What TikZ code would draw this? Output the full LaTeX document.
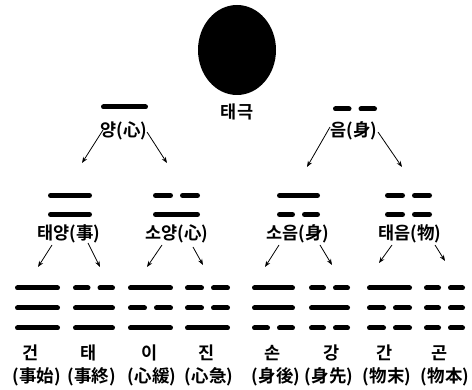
\documentclass[tikz,border=0pt]{standalone}
\usepackage{fontspec}
\newfontfamily\kr{Noto Sans CJK KR Bold}
\usetikzlibrary{arrows.meta,calc}
\tikzset{
  yaobar/.style={line width=5pt,line cap=round},
  lbl/.style={font=\kr\fontsize{17.5}{17.5}\selectfont,inner sep=0pt},
  arr/.style={line width=0.8pt,-{Stealth[length=6pt,width=4.5pt]}}
}
\newcommand{\gwsolid}[3]{\draw[yaobar] ({#1+2.5},#3) -- ({#2-2.5},#3);}
\newcommand{\gwbroken}[3]{\draw[yaobar] ({#1+2.5},#3) -- ({(#1+#2)/2-6},#3) ({(#1+#2)/2+6},#3) -- ({#2-2.5},#3);}
\begin{document}
\begin{tikzpicture}[x=1pt,y=-1pt]
\useasboundingbox (0,0) rectangle (472,390);
% Taeguk
\fill (237,50) ellipse [x radius=39pt, y radius=45pt];
\node[lbl] (tg) at (237,112) {태극};
% level 1
\gwsolid{101}{148}{107}
\gwbroken{333}{377}{109}
\node[lbl] (yang) at (124,131) {양(心)};
\node[lbl] (eum) at (354,131) {음(身)};
% level 2
\gwsolid{48}{92}{195.5}  \gwsolid{48}{92}{214.5}
\gwbroken{153}{200}{195.5} \gwsolid{153}{200}{214.5}
\gwsolid{277}{320}{195.5} \gwbroken{277}{320}{214.5}
\gwbroken{385}{432}{195.5} \gwbroken{385}{432}{214.5}
\node[lbl] (ty) at (69,234) {태양(事)};
\node[lbl] (sy) at (177,234) {소양(心)};
\node[lbl] (se) at (298,234) {소음(身)};
\node[lbl] (te) at (410,234) {태음(物)};
% arrow targets
\coordinate (a1) at (82,163);
\coordinate (a2) at (167,163);
\coordinate (a3) at (307,167);
\coordinate (a4) at (402,167);
\coordinate (b1) at (38,267);
\coordinate (b2) at (100,267);
\coordinate (b3) at (147,267);
\coordinate (b4) at (203,265);
\coordinate (b5) at (265,267);
\coordinate (b6) at (332,265);
\coordinate (b7) at (379,263);
\coordinate (b8) at (445,261);
\draw[arr] ($(yang)+(-21,-1)$) -- (a1);
\draw[arr] ($(yang)+(23,1)$) -- (a2);
\draw[arr] ($(eum)+(-24,-4)$) -- (a3);
\draw[arr] ($(eum)+(24,1)$) -- (a4);
\draw[arr] ($(ty)+(-17,11)$) -- (b1);
\draw[arr] ($(ty)+(19,9)$) -- (b2);
\draw[arr] ($(sy)+(-15,11)$) -- (b3);
\draw[arr] ($(sy)+(16,13)$) -- (b4);
\draw[arr] ($(se)+(-19,11)$) -- (b5);
\draw[arr] ($(se)+(22,11)$) -- (b6);
\draw[arr] ($(te)+(-18,11)$) -- (b7);
\draw[arr] ($(te)+(25,11)$) -- (b8);
% trigrams: top, middle, bottom
% 건
\gwsolid{15}{60}{288} \gwsolid{15}{60}{308} \gwsolid{15}{60}{328}
% 태
\gwbroken{73}{115}{288} \gwsolid{73}{115}{308} \gwsolid{73}{115}{328}
% 이
\gwsolid{128}{173}{288} \gwbroken{128}{173}{308} \gwsolid{128}{173}{328}
% 진
\gwbroken{185}{230}{288} \gwbroken{185}{230}{308} \gwsolid{185}{230}{328}
% 손
\gwsolid{252}{295}{288} \gwsolid{252}{295}{308} \gwbroken{252}{295}{328}
% 감
\gwbroken{309}{350}{288} \gwsolid{309}{350}{308} \gwbroken{309}{350}{328}
% 간
\gwsolid{367}{412}{288} \gwbroken{367}{412}{308} \gwbroken{367}{412}{328}
% 곤
\gwbroken{424}{465}{288} \gwbroken{424}{465}{308} \gwbroken{424}{465}{328}
% names
\node[lbl] (n1) at (31,353) {건};
\node[lbl] (n2) at (89,353) {태};
\node[lbl] (n3) at (150,353) {이};
\node[lbl] (n4) at (207,353) {진};
\node[lbl] (n5) at (273,353) {손};
\node[lbl] (n6) at (332,353) {강};
\node[lbl] (n7) at (385,353) {간};
\node[lbl] (n8) at (440,353) {곤};
\node[lbl] (m1) at (37,377) {(事始)};
\node[lbl] (m2) at (92,377) {(事終)};
\node[lbl] (m3) at (152,377) {(心緩)};
\node[lbl] (m4) at (209,377) {(心急)};
\node[lbl] (m5) at (276,377) {(身後)};
\node[lbl] (m6) at (329,377) {(身先)};
\node[lbl] (m7) at (387,377) {(物末)};
\node[lbl] (m8) at (445,377) {(物本)};
\end{tikzpicture}
\end{document}
